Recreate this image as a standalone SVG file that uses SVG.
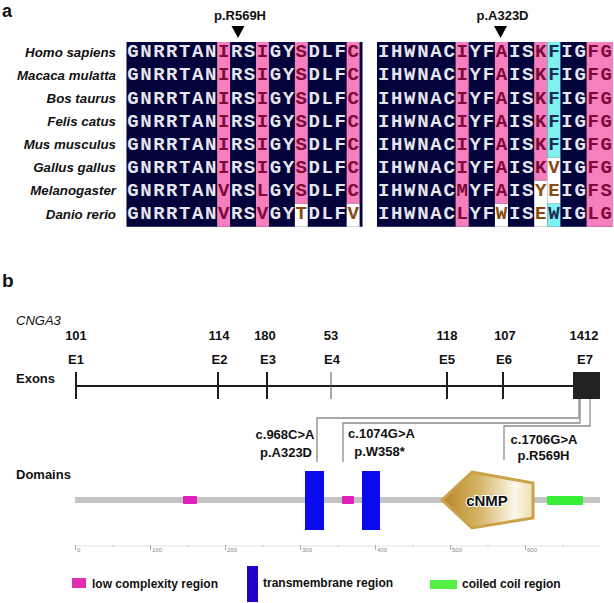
<svg xmlns="http://www.w3.org/2000/svg" width="614" height="603" viewBox="0 0 614 603">
<defs>
<style>
.lbl{font-family:"Liberation Sans",Arial,sans-serif;font-weight:bold;fill:#111}
.sp{font-family:"Liberation Sans",Arial,sans-serif;font-weight:bold;font-style:italic;font-size:13.3px;fill:#111;text-anchor:end}
.seq{font-family:"Liberation Mono","Courier New",monospace;font-weight:bold;font-size:19px;text-anchor:middle}
.d{fill:#e6e6ee}.p{fill:#7a0a3a}.c{fill:#1c2a55}.w{fill:#8a4a12}
.bgd{fill:#03033c}.bgp{fill:#f77fbd}.bgc{fill:#80f2ee}.bgw{fill:#ffffff}
.conn{fill:none;stroke:#8c8c8c;stroke-width:1.3}
.tick{stroke:#1e1e1e;stroke-width:2}
.num{font-size:13px;text-anchor:middle}
.mut{font-size:13px;text-anchor:middle}
.leg{font-size:12px}
.rl{font-family:"Liberation Sans",Arial,sans-serif;font-size:6px;fill:#888}
.lc{fill:#e020b8}.tm{fill:#0a0aee}.cc{fill:#38ee38}
</style>
<linearGradient id="gold" x1="0" y1="0" x2="1" y2="0">
<stop offset="0" stop-color="#b8862a"/>
<stop offset="0.4" stop-color="#d6b364"/>
<stop offset="0.8" stop-color="#fcf7ea"/>
<stop offset="1" stop-color="#f0deb0"/>
</linearGradient>
<text id="L" class="seq"><tspan class="d" x="133 145.9 158.9 171.8 184.8 197.7 210.7">GNRRTAN</tspan><tspan class="p" x="223.6">I</tspan><tspan class="d" x="236.6 249.5">RS</tspan><tspan class="p" x="262.5">I</tspan><tspan class="d" x="275.4 288.4">GY</tspan><tspan class="p" x="301.3">S</tspan><tspan class="d" x="314.3 327.2 340.2">DLF</tspan><tspan class="p" x="353.1">C</tspan></text>
<text id="R" class="seq"><tspan class="d" x="383.6 396.7 409.8 422.9 436 449.1">IHWNAC</tspan><tspan class="p" x="462.2">I</tspan><tspan class="d" x="475.3 488.4">YF</tspan><tspan class="p" x="501.5">A</tspan><tspan class="d" x="514.6 527.7">IS</tspan><tspan class="p" x="540.8">K</tspan><tspan class="c" x="553.9">F</tspan><tspan class="d" x="567 580.1">IG</tspan><tspan class="p" x="593.2 606.3">FG</tspan></text>
</defs>
<rect width="614" height="603" fill="#ffffff"/>

<!-- Panel a -->
<g id="panel-a">
<text class="lbl" x="2" y="16.5" font-size="18">a</text>
<g id="mut-R569H">
<text class="lbl" x="240" y="20" font-size="13" text-anchor="middle">p.R569H</text>
<polygon points="231.5,26 244.5,26 238,38" fill="#000"/>
</g>
<g id="mut-A323D">
<text class="lbl" x="502.5" y="20" font-size="13" text-anchor="middle">p.A323D</text>
<polygon points="494,26 507,26 500.5,38" fill="#000"/>
</g>
<g id="species">
<text class="sp" x="116" y="56.8">Homo sapiens</text>
<text class="sp" x="116" y="79.9">Macaca mulatta</text>
<text class="sp" x="116" y="103">Bos taurus</text>
<text class="sp" x="116" y="126.1">Felis catus</text>
<text class="sp" x="116" y="149.2">Mus musculus</text>
<text class="sp" x="116" y="172.3">Gallus gallus</text>
<text class="sp" x="116" y="195.4">Melanogaster</text>
<text class="sp" x="116" y="218.5">Danio rerio</text>
</g>
<g id="align-bg">
<rect class="bgd" x="126.5" y="42" width="236" height="184.8"/>
<rect class="bgp" x="217.15" y="42" width="12.95" height="184.8"/>
<rect class="bgp" x="256" y="42" width="12.95" height="184.8"/>
<rect class="bgp" x="294.85" y="42" width="12.95" height="161.7"/>
<rect class="bgw" x="294.85" y="203.7" width="12.95" height="23.1"/>
<rect class="bgp" x="346.65" y="42" width="12.95" height="161.7"/>
<rect class="bgw" x="346.65" y="203.7" width="12.95" height="23.1"/>
<rect class="bgd" x="377" y="42" width="236" height="184.8"/>
<rect class="bgp" x="455.6" y="42" width="13.1" height="184.8"/>
<rect class="bgp" x="494.9" y="42" width="13.1" height="161.7"/>
<rect class="bgw" x="494.9" y="203.7" width="13.1" height="23.1"/>
<rect class="bgp" x="534.2" y="42" width="13.1" height="138.6"/>
<rect class="bgw" x="534.2" y="180.6" width="13.1" height="46.2"/>
<rect class="bgc" x="547.3" y="42" width="13.1" height="115.5"/>
<rect class="bgw" x="547.3" y="157.5" width="13.1" height="46.2"/>
<rect class="bgc" x="547.3" y="203.7" width="13.1" height="23.1"/>
<rect class="bgp" x="586.6" y="42" width="26.4" height="184.8"/>
</g>
<g id="align-seq">
<use href="#L" y="57.3"/><use href="#R" y="57.3"/>
<use href="#L" y="80.4"/><use href="#R" y="80.4"/>
<use href="#L" y="103.5"/><use href="#R" y="103.5"/>
<use href="#L" y="126.6"/><use href="#R" y="126.6"/>
<use href="#L" y="149.7"/><use href="#R" y="149.7"/>
<use href="#L" y="172.8"/>
<text class="seq" y="172.8"><tspan class="d" x="383.6 396.7 409.8 422.9 436 449.1">IHWNAC</tspan><tspan class="p" x="462.2">I</tspan><tspan class="d" x="475.3 488.4">YF</tspan><tspan class="p" x="501.5">A</tspan><tspan class="d" x="514.6 527.7">IS</tspan><tspan class="p" x="540.8">K</tspan><tspan class="w" x="553.9">V</tspan><tspan class="d" x="567 580.1">IG</tspan><tspan class="p" x="593.2 606.3">FG</tspan></text>
<text class="seq" y="195.9"><tspan class="d" x="133 145.9 158.9 171.8 184.8 197.7 210.7">GNRRTAN</tspan><tspan class="p" x="223.6">V</tspan><tspan class="d" x="236.6 249.5">RS</tspan><tspan class="p" x="262.5">L</tspan><tspan class="d" x="275.4 288.4">GY</tspan><tspan class="p" x="301.3">S</tspan><tspan class="d" x="314.3 327.2 340.2">DLF</tspan><tspan class="p" x="353.1">C</tspan></text>
<text class="seq" y="195.9"><tspan class="d" x="383.6 396.7 409.8 422.9 436 449.1">IHWNAC</tspan><tspan class="p" x="462.2">M</tspan><tspan class="d" x="475.3 488.4">YF</tspan><tspan class="p" x="501.5">A</tspan><tspan class="d" x="514.6 527.7">IS</tspan><tspan class="w" x="540.8 553.9">YE</tspan><tspan class="d" x="567 580.1">IG</tspan><tspan class="p" x="593.2 606.3">FS</tspan></text>
<text class="seq" y="219"><tspan class="d" x="133 145.9 158.9 171.8 184.8 197.7 210.7">GNRRTAN</tspan><tspan class="p" x="223.6">V</tspan><tspan class="d" x="236.6 249.5">RS</tspan><tspan class="p" x="262.5">V</tspan><tspan class="d" x="275.4 288.4">GY</tspan><tspan class="w" x="301.3">T</tspan><tspan class="d" x="314.3 327.2 340.2">DLF</tspan><tspan class="w" x="353.1">V</tspan></text>
<text class="seq" y="219"><tspan class="d" x="383.6 396.7 409.8 422.9 436 449.1">IHWNAC</tspan><tspan class="p" x="462.2">L</tspan><tspan class="d" x="475.3 488.4">YF</tspan><tspan class="w" x="501.5">W</tspan><tspan class="d" x="514.6 527.7">IS</tspan><tspan class="w" x="540.8">E</tspan><tspan class="c" x="553.9">W</tspan><tspan class="d" x="567 580.1">IG</tspan><tspan class="p" x="593.2 606.3">LG</tspan></text>
</g>
</g>

<!-- Panel b -->
<text class="lbl" x="2" y="287" font-size="19">b</text>
<text x="16" y="325" font-family="Liberation Sans, Arial, sans-serif" font-style="italic" font-size="13" fill="#111">CNGA3</text>
<text class="lbl" x="16" y="383" font-size="13">Exons</text>
<text class="lbl" x="16" y="479" font-size="13">Domains</text>

<g id="exon-line">
<line x1="76" y1="386" x2="574" y2="386" stroke="#1e1e1e" stroke-width="2"/>
</g>
<g id="E1"><line class="tick" x1="76" y1="372" x2="76" y2="399"/><text class="lbl num" x="76" y="340">101</text><text class="lbl num" x="76" y="363.5">E1</text></g>
<g id="E2"><line class="tick" x1="218" y1="372" x2="218" y2="399"/><text class="lbl num" x="219" y="340">114</text><text class="lbl num" x="219.5" y="363.5">E2</text></g>
<g id="E3"><line class="tick" x1="267" y1="372" x2="267" y2="399" stroke-width="3.5"/><text class="lbl num" x="265" y="340">180</text><text class="lbl num" x="268" y="363.5">E3</text></g>
<g id="E4"><line x1="331" y1="372" x2="331" y2="399" stroke="#555" stroke-width="1"/><text class="lbl num" x="331" y="340">53</text><text class="lbl num" x="332" y="363.5">E4</text></g>
<g id="E5"><line class="tick" x1="447" y1="372" x2="447" y2="399"/><text class="lbl num" x="447" y="340">118</text><text class="lbl num" x="447" y="363.5">E5</text></g>
<g id="E6"><line class="tick" x1="503" y1="372" x2="503" y2="399"/><text class="lbl num" x="505" y="340">107</text><text class="lbl num" x="504" y="363.5">E6</text></g>
<g id="E7"><rect x="573" y="372" width="27" height="27" fill="#222"/><text class="lbl num" x="584" y="340">1412</text><text class="lbl num" x="585" y="363.5">E7</text></g>

<g id="connectors">
<polyline class="conn" points="579,399 579,418 317,418 317,462"/>
<polyline class="conn" points="580,399 580,423 343,423 343,462"/>
<polyline class="conn" points="590,399 590,426 504,426 504,460"/>
</g>

<g id="mutations">
<text class="lbl mut" x="285" y="439">c.968C&gt;A</text>
<text class="lbl mut" x="286" y="457">p.A323D</text>
<text class="lbl mut" x="381.5" y="438">c.1074G&gt;A</text>
<text class="lbl mut" x="379.5" y="456">p.W358*</text>
<text class="lbl mut" x="544" y="444">c.1706G&gt;A</text>
<text class="lbl mut" x="543.5" y="460">p.R569H</text>
</g>

<g id="domains">
<rect x="75" y="497" width="525" height="6" fill="#c4c4c4"/>
<g id="lcr1"><rect class="lc" x="183" y="496" width="14" height="8" rx="1"/></g>
<g id="lcr2"><rect class="lc" x="342" y="496" width="12" height="8" rx="1"/></g>
<g id="tm1"><rect class="tm" x="305" y="471" width="19" height="59"/></g>
<g id="tm2"><rect class="tm" x="362" y="471" width="18" height="59"/></g>
<g id="cnmp">
<polygon points="442,500 472,472 533,483 533,518 472,528" fill="url(#gold)" stroke="#c9a24a" stroke-width="3" stroke-linejoin="miter"/>
<text class="lbl" x="487" y="505.5" font-size="15" text-anchor="middle" stroke="#fff" stroke-width="2" paint-order="stroke">cNMP</text>
</g>
<g id="coil"><rect class="cc" x="547" y="496" width="36" height="9" rx="1"/></g>
</g>

<g id="ruler">
<line x1="75" y1="546" x2="600" y2="546" stroke="#e4e4e4" stroke-width="1"/>
<g stroke="#9a9a9a" stroke-width="0.8">
<line x1="75.5" y1="545" x2="75.5" y2="550"/>
<line x1="150.5" y1="545" x2="150.5" y2="550"/>
<line x1="225.5" y1="545" x2="225.5" y2="550"/>
<line x1="300.5" y1="545" x2="300.5" y2="550"/>
<line x1="375.5" y1="545" x2="375.5" y2="550"/>
<line x1="450.5" y1="545" x2="450.5" y2="550"/>
<line x1="525.5" y1="545" x2="525.5" y2="550"/>
</g>
<g stroke="#bbb" stroke-width="0.8">
<line x1="113" y1="545" x2="113" y2="547"/>
<line x1="188" y1="545" x2="188" y2="547"/>
<line x1="263" y1="545" x2="263" y2="547"/>
<line x1="338" y1="545" x2="338" y2="547"/>
<line x1="413" y1="545" x2="413" y2="547"/>
<line x1="488" y1="545" x2="488" y2="547"/>
<line x1="563" y1="545" x2="563" y2="547"/>
</g>
<text class="rl" x="77" y="552">0</text>
<text class="rl" x="152" y="552">100</text>
<text class="rl" x="227" y="552">200</text>
<text class="rl" x="302" y="552">300</text>
<text class="rl" x="377" y="552">400</text>
<text class="rl" x="452" y="552">500</text>
<text class="rl" x="527" y="552">600</text>
</g>

<g id="legend">
<g id="leg-lcr"><rect x="72" y="578" width="14" height="10" fill="#e030b0"/><text class="lbl leg" x="92" y="587.5">low complexity region</text></g>
<g id="leg-tm"><rect x="247" y="566" width="11" height="36" fill="#2200c8"/><text class="lbl leg" x="263" y="587">transmembrane region</text></g>
<g id="leg-cc"><rect x="430" y="580" width="27" height="9" fill="#55f044"/><text class="lbl leg" x="462" y="588">coiled coil region</text></g>
</g>
</svg>
